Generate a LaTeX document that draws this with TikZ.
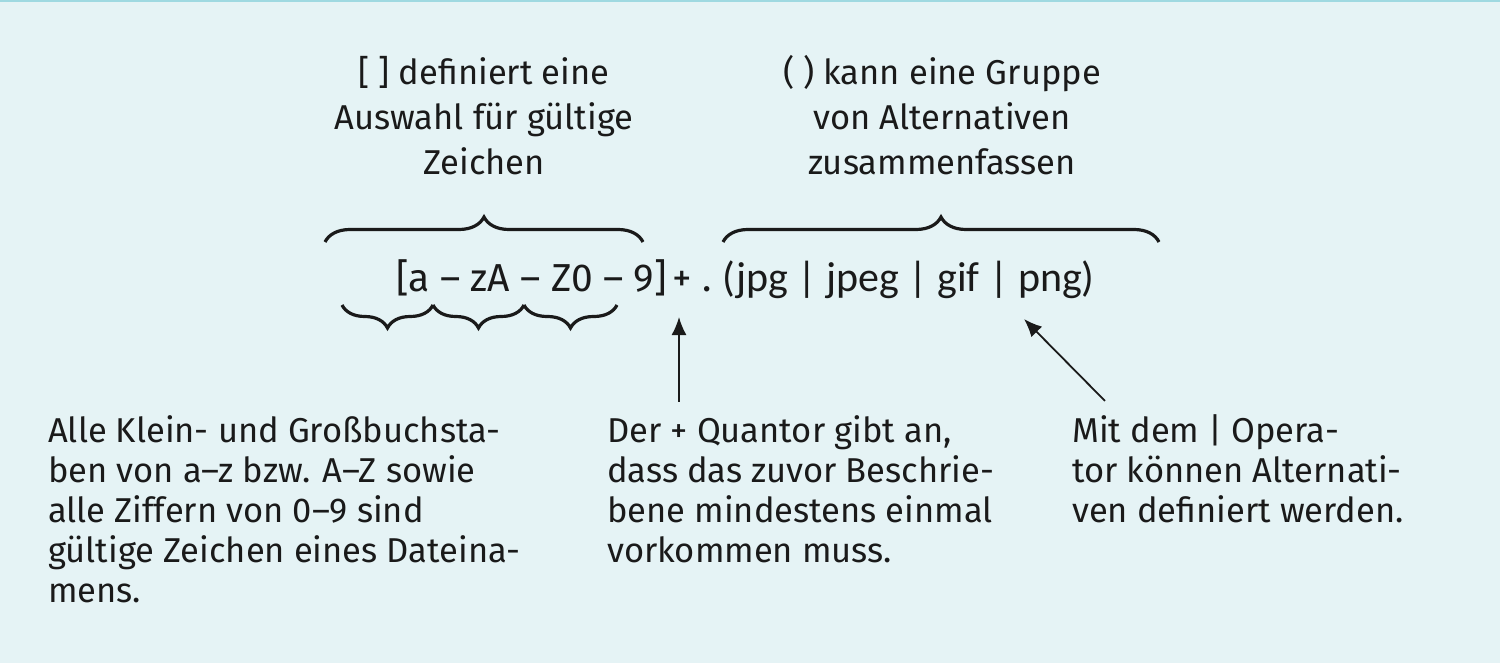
\documentclass[tikz,border=0pt]{standalone}
\usepackage{fontspec}
\setmainfont{Fira Sans}
\newfontfamily\calib{Carlito}
\usetikzlibrary{arrows.meta,positioning,decorations.pathreplacing}
\definecolor{paper}{HTML}{E5F3F5}
\definecolor{rim}{HTML}{9FD9E1}
\definecolor{ink}{HTML}{1A1A1A}

\begin{document}
\begin{tikzpicture}[x=1pt,y=-1pt,>=Latex,
  note/.style={inner sep=0pt,text=ink,font=\fontsize{34.5}{40}\selectfont,align=left,anchor=base west},
  head/.style={inner sep=0pt,text=ink,font=\fontsize{34.5}{45}\selectfont,align=center,anchor=base},
  expr/.style={inner sep=0pt,text=ink,font=\fontsize{39}{48}\selectfont,anchor=base},
  curly/.style={draw=ink,line width=3.2pt,decorate,decoration={brace,amplitude=#1}},
  pointer/.style={draw=ink,line width=1.8pt,-{Latex[length=18pt,width=15pt]}}]
\useasboundingbox[fill=paper] (0,0) rectangle (1500,663);
\fill[rim] (0,0) rectangle (1500,2.5);
% expression
\node[expr,anchor=base west] (cls) at (396,291) {[a – zA – Z0 – 9]};
\node[expr] (plus) at (682,291) {+};\node[expr] (dot) at (707,291) {.};
\node[expr,font=\calib\fontsize{42}{50}\selectfont,anchor=base west] (grp) at (722,291) {(jpg | jpeg | gif | png)};
% labels above (base = last line)
\node[head] (setlbl) at (484,175) {[ ] definiert eine\\Auswahl für gültige\\Zeichen};
\node[head] (grplbl) at (942,175) {( ) kann eine Gruppe\\von Alternativen\\zusammenfassen};
\draw[curly=25] (325,242)--(643,242);\draw[curly=25] (723,242)--(1159,242);
\foreach \a/\b in {342/433,433/524,524/617}{\draw[curly=23] (\b,305)--(\a,305);}
% notes below
\node[note] (chars) at (48,602) {Alle Klein- und Großbuchsta-\\ben von a–z bzw. A–Z sowie\\alle Ziffern von 0–9 sind\\gültige Zeichen eines Dateina-\\mens.};
\node[note] (quant) at (607,562) {Der + Quantor gibt an,\\dass das zuvor Beschrie-\\bene mindestens einmal\\vorkommen muss.};
\node[note] (alt) at (1072,522) {Mit dem | Opera-\\tor können Alternati-\\ven definiert werden.};
\coordinate (plustip) at (679,317);\coordinate (pipetip) at (1024,319);
\coordinate (qtop) at ([yshift=13pt]quant.north);
\draw[pointer] (plustip |- qtop)--(plustip);
\draw[pointer] ([shift={(33,-13)}]alt.north west)--(pipetip);
\end{tikzpicture}
\end{document}
